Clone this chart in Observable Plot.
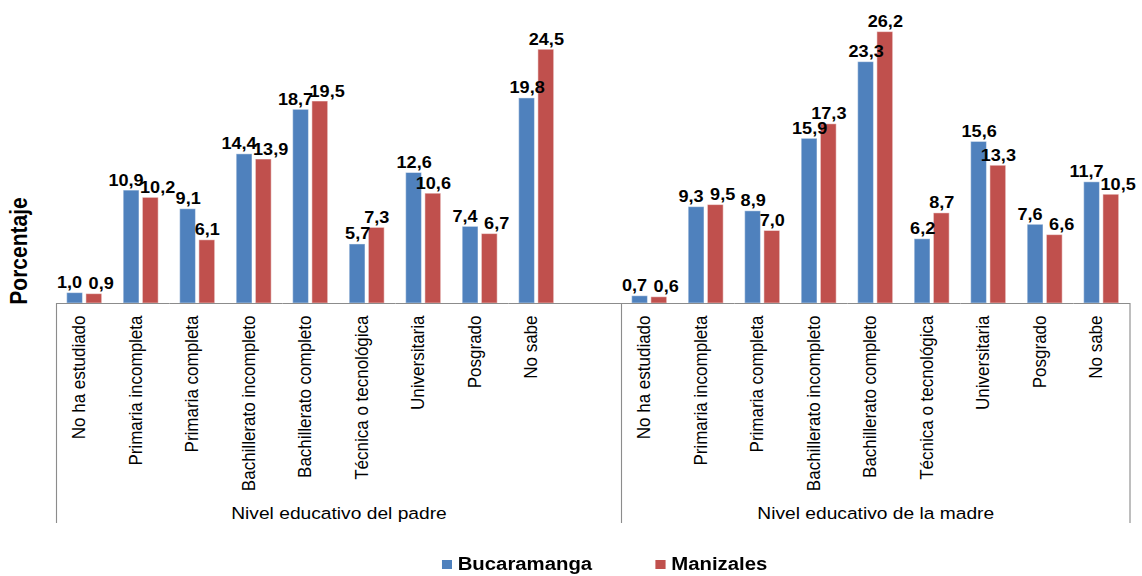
<!DOCTYPE html>
<html>
<head>
<meta charset="utf-8">
<script src="https://cdn.jsdelivr.net/npm/d3@7"></script>
<script src="https://cdn.jsdelivr.net/npm/@observablehq/plot@0.6"></script>
<style>
  html, body { margin: 0; padding: 0; background: #fff; }
  body { width: 1142px; height: 576px; overflow: hidden; font-family: "Liberation Sans", Arial, sans-serif; }
  /* the reference is drawn slightly stretched horizontally */
  #wrap { width: 1011px; transform: scaleX(1.13); transform-origin: 0 0; }
  #chart svg { display: block; }
  #legend { position: relative; height: 36px; }
  .item { position: absolute; top: 14px; display: flex; align-items: center; font-weight: bold; font-size: 18px; color: #000; }
  .sw { width: 9px; height: 9px; margin-right: 5px; }
</style>
</head>
<body>
<div id="wrap">
<div id="chart"></div>
<div id="legend"></div>
</div>
<script>
// ---- data ----
const categories = ["No ha estudiado", "Primaria incompleta", "Primaria completa", "Bachillerato incompleto", "Bachillerato completo", "Técnica o tecnológica", "Universitaria", "Posgrado", "No sabe"];
const series = ["Bucaramanga", "Manizales"];
const groups = ["Nivel educativo del padre", "Nivel educativo de la madre"];
const padreBucaramanga = [1.0, 10.9, 9.1, 14.4, 18.7, 5.7, 12.6, 7.4, 19.8];
const padreManizales   = [0.9, 10.2, 6.1, 13.9, 19.5, 7.3, 10.6, 6.7, 24.5];
const madreBucaramanga = [0.7, 9.3, 8.9, 15.9, 23.3, 6.2, 15.6, 7.6, 11.7];
const madreManizales   = [0.6, 9.5, 7.0, 17.3, 26.2, 8.7, 13.3, 6.6, 10.5];
const colors = ["#4F81BD", "#C0504D"];

// ---- table ----
const rows = [];
const slots = [];
function addGroup(g, vb, vm, blank) {
  categories.forEach((c, i) => {
    const slot = g + "|" + c;
    slots.push(slot);
    rows.push({slot, group: g, category: c, series: series[0], value: vb[i], other: vm[i]});
    rows.push({slot, group: g, category: c, series: series[1], value: vm[i], other: vb[i]});
  });
  if (blank) {
    const slot = g + "|";
    slots.push(slot);
    rows.push({slot, group: g, category: "", series: series[0], value: null, other: null});
    rows.push({slot, group: g, category: "", series: series[1], value: null, other: null});
  }
}
addGroup(groups[0], padreBucaramanga, padreManizales, true);
addGroup(groups[1], madreBucaramanga, madreManizales, false);

const fmt = v => v == null ? "" : d3.format(".1f")(v).replace(".", ",");
// labels of a pair at nearly the same height are pushed apart
const close = d => d.value != null && Math.abs(d.value - d.other) < 1.25;
const labelOpts = {x: "series", y: "value", text: d => fmt(d.value), lineAnchor: "bottom", dy: -5,
                   fontWeight: "bold", fontSize: 16, fill: "#000"};

const W = 1011, H = 540, ML = 47, MR = 8.3, MB = 237;
const chart = Plot.plot({
  width: W,
  height: H,
  marginLeft: ML,
  marginRight: MR,
  marginTop: 13,
  marginBottom: MB,
  style: {fontFamily: "'Liberation Sans', Arial, sans-serif", fontSize: "17px", color: "#000", background: "#fff"},
  facet: {data: rows, x: "slot"},
  fx: {domain: slots, padding: 0, axis: null, label: null},
  x: {domain: series, paddingInner: 0.154, paddingOuter: 0.53, axis: null},
  y: {domain: [0, 28], axis: null},
  color: {domain: series, range: colors},
  marks: [
    Plot.barY(rows, {x: "series", y: "value", fill: "series", stroke: "#fff", strokeOpacity: 0.45, strokeWidth: 1}),
    Plot.ruleY([0], {stroke: "#8c8c8c", strokeWidth: 1}),
    Plot.text(rows, {...labelOpts, filter: d => !close(d)}),
    Plot.text(rows, {...labelOpts, filter: d => close(d) && d.series === series[0], dx: -5}),
    Plot.text(rows, {...labelOpts, filter: d => close(d) && d.series === series[1], dx: 6}),
    // category tick labels, one per facet
    Plot.text(rows, {filter: d => d.series === series[0], text: "category", frameAnchor: "bottom",
                     rotate: -90, textAnchor: "end", dy: 12, fontSize: 17, fill: "#000"})
  ]
});
document.getElementById("chart").appendChild(chart);

// ---- group separators and labels, from the plot's own scales ----
const svg = d3.select(chart);
let fxs = null;
try { fxs = chart.scale("fx"); } catch (e) { fxs = null; }
let fxApply, bw;
if (fxs && fxs.apply) {
  fxApply = v => fxs.apply(v);
  bw = fxs.bandwidth;
} else {
  const b = d3.scaleBand().domain(slots).range([ML, W - MR]).padding(0);
  fxApply = v => b(v); bw = b.bandwidth();
}
let ys = null;
try { ys = chart.scale("y"); } catch (e) { ys = null; }
const y0 = ys && ys.apply ? ys.apply(0) : H - MB;

const left = fxApply(slots[0]);
const mid = fxApply(groups[1] + "|" + categories[0]);
const right = fxApply(slots[slots.length - 1]) + bw;
const bottom = y0 + 220;
[left, mid, right].forEach(x => {
  svg.append("line").attr("x1", x).attr("x2", x).attr("y1", y0).attr("y2", bottom)
    .attr("stroke", "#8c8c8c").attr("stroke-width", 1);
});
[[left, mid, groups[0]], [mid, right, groups[1]]].forEach(([a, b, t]) => {
  svg.append("text").attr("x", (a + b) / 2).attr("y", y0 + 216).attr("text-anchor", "middle")
    .attr("font-size", 17).attr("fill", "#000").text(t);
});
svg.append("text").attr("transform", `translate(24,251) rotate(-90)`).attr("text-anchor", "middle")
  .attr("font-size", 21).attr("font-weight", "bold").attr("fill", "#000").text("Porcentaje");

// ---- legend ----
const legend = d3.select("#legend");
const lx = [391, 580];
series.forEach((s, i) => {
  const it = legend.append("div").attr("class", "item").style("left", lx[i] + "px");
  it.append("div").attr("class", "sw").style("background", colors[i]);
  it.append("span").text(s);
});
</script>
</body>
</html>
